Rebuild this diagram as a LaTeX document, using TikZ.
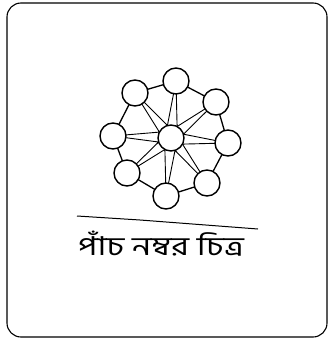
\documentclass[tikz,border=0pt]{standalone}
\usepackage{fontspec}
\usetikzlibrary{calc}
\newfontfamily\bnfont[Script=Bengali]{Hind Siliguri}
\begin{document}
\begin{tikzpicture}[x=1pt,y=-1pt,
  ball/.style={circle,draw,line width=1.4pt,fill=white,minimum size=26pt,inner sep=0pt},
  spoke/.style={line width=0.9pt},
  ring/.style={line width=1.3pt},
  frame/.style={line width=1.1pt,rounded corners=14pt},
  caption/.style={font=\bnfont\fontsize{26}{30}\selectfont,xscale=1.3}]
\useasboundingbox (0,0) rectangle (331,342);
\draw[frame] (7,3) rectangle (327,337);
% positions
\coordinate (c) at (171,138);
\coordinate (p1) at (176,81);
\coordinate (p2) at (216,102);
\coordinate (p3) at (228,143);
\coordinate (p4) at (207,183);
\coordinate (p5) at (166,196);
\coordinate (p6) at (127,173);
\coordinate (p7) at (113,136);
\coordinate (p8) at (135,93);
% inner star vertices
\foreach \a/\n in {62/q1,17/q2,-28/q3,-72/q4,-118/q5,-162/q6,153/q7,106/q8}{
  \coordinate (\n) at ($(c)+(\a:13pt)$);
}
% ring
\draw[ring] (p1) -- (p2) -- (p3) -- (p4) -- (p5) -- (p6) -- (p7) -- (p8) -- cycle;
% star
\draw[spoke] (p1) -- (q1) -- (p2) -- (q2) -- (p3) -- (q3) -- (p4) -- (q4) -- (p5) -- (q5) -- (p6) -- (q6) -- (p7) -- (q7) -- (p8) -- (q8) -- cycle;
% nodes
\node[ball] (n0) at (c) {};
\foreach \i in {1,...,8}{\node[ball] (n\i) at (p\i) {};}
% underline
\draw[line width=1pt] (77,216) -- (140,220) -- (258,229);
\node[caption] (t) at (161,244) {পাঁচ নম্বর চিত্র};
\end{tikzpicture}
\end{document}
